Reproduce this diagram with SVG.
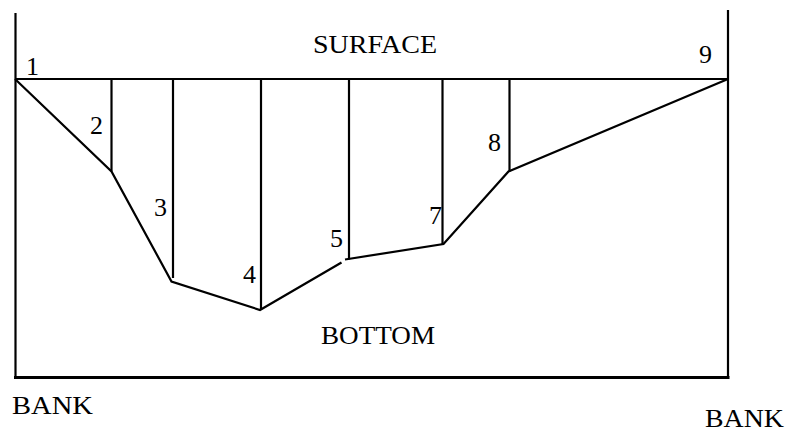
<svg xmlns="http://www.w3.org/2000/svg" width="788" height="433" viewBox="0 0 788 433">
<style>
.l{stroke:#000;stroke-width:2.2;fill:none;stroke-linecap:butt;stroke-linejoin:miter}
.b{stroke:#000;stroke-width:3;fill:none}
text{font-family:"Liberation Serif","DejaVu Serif",serif;font-size:26px;fill:#000}
</style>
<rect width="788" height="433" fill="#fff"/>
<g id="frame">
<path class="l" d="M15.5,13 V377"/>
<path class="l" d="M728,10 V377"/>
<path class="b" d="M14,377.5 H729.5"/>
<path class="l" d="M15,79 H728"/>
</g>
<g id="connectors">
<path class="l" d="M15,79 L111.5,171.5 L171.5,281.5 L260,310 L341.5,262.5"/>
<path class="l" d="M345,259.5 L443.5,244 L508.5,171.5 L728,79"/>
<path class="l" d="M111.5,79 V171.5"/>
<path class="l" d="M173,79 V278"/>
<path class="l" d="M261,79 V310"/>
<path class="l" d="M349,79 V259.5"/>
<path class="l" d="M442.5,79 V244"/>
<path class="l" d="M509.5,79 V171.5"/>
</g>
<g id="labels">
<text x="26" y="75">1</text>
<text x="90" y="134">2</text>
<text x="154" y="216">3</text>
<text x="243" y="283">4</text>
<text x="330" y="247">5</text>
<text x="429" y="224">7</text>
<text x="488" y="151">8</text>
<text x="699" y="63">9</text>
<text x="313" y="53" textLength="124" lengthAdjust="spacingAndGlyphs">SURFACE</text>
<text x="321" y="344" textLength="114" lengthAdjust="spacingAndGlyphs">BOTTOM</text>
<text x="12" y="414" textLength="81" lengthAdjust="spacingAndGlyphs">BANK</text>
<text x="705" y="427" textLength="79" lengthAdjust="spacingAndGlyphs">BANK</text>
</g>
</svg>
